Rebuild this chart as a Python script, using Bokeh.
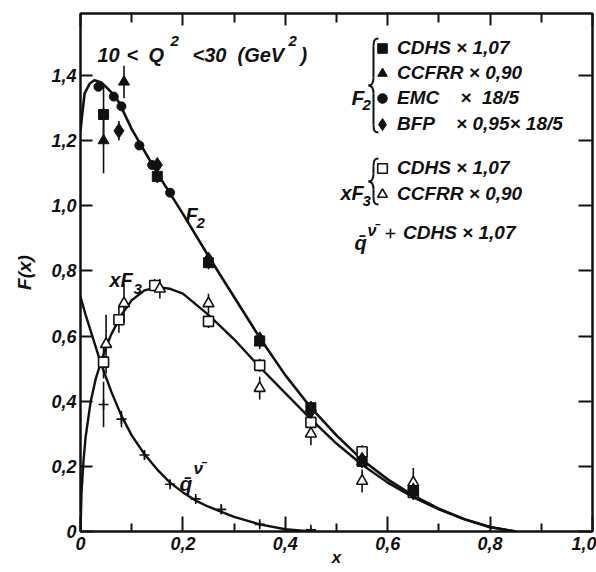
from bokeh.plotting import figure
from bokeh.models import (Range1d, LinearAxis, FixedTicker, CustomJSTickFormatter,
                          Label, Legend, LegendItem, ColumnDataSource)
from bokeh.embed import file_html
from bokeh.resources import INLINE

# ---------------- axis ticks ----------------
x_ticks = [0.0, 0.2, 0.4, 0.6, 0.8, 1.0]
x_minor_ticks = [0.1, 0.3, 0.5, 0.7, 0.9]
y_ticks = [0.0, 0.2, 0.4, 0.6, 0.8, 1.0, 1.2, 1.4]
X_MAX = 1.0
Y_MAX = 1.59

# ---------------- F2 measurements ----------------
f2_cdhs_x = [0.045, 0.15, 0.25, 0.35, 0.45, 0.55, 0.65]
f2_cdhs_y = [1.28, 1.09, 0.825, 0.585, 0.38, 0.215, 0.125]
f2_cdhs_err = [0.09, 0.02, 0.02, 0.015, 0.015, 0.015, 0.015]

f2_ccfrr_x = [0.045, 0.085, 0.25, 0.35, 0.45, 0.55, 0.65]
f2_ccfrr_y = [1.20, 1.38, 0.83, 0.58, 0.38, 0.215, 0.13]
f2_ccfrr_err = [0.10, 0.05, 0.02, 0.02, 0.02, 0.02, 0.02]

f2_emc_x = [0.035, 0.065, 0.08, 0.115, 0.14, 0.175]
f2_emc_y = [1.365, 1.335, 1.305, 1.185, 1.125, 1.04]

f2_bfp_x = [0.075, 0.15, 0.25, 0.35, 0.45, 0.55, 0.65]
f2_bfp_y = [1.23, 1.125, 0.835, 0.59, 0.37, 0.22, 0.12]
f2_bfp_err = [0.03, 0.015, 0.015, 0.015, 0.015, 0.015, 0.015]

# ---------------- xF3 measurements ----------------
xf3_cdhs_x = [0.045, 0.075, 0.145, 0.25, 0.35, 0.45, 0.55, 0.65]
xf3_cdhs_y = [0.52, 0.65, 0.755, 0.645, 0.51, 0.335, 0.245, 0.12]
xf3_cdhs_err = [0.05, 0.04, 0.02, 0.02, 0.02, 0.02, 0.02, 0.02]

xf3_ccfrr_x = [0.05, 0.085, 0.155, 0.25, 0.35, 0.45, 0.55, 0.65]
xf3_ccfrr_y = [0.575, 0.70, 0.745, 0.70, 0.44, 0.30, 0.155, 0.15]
xf3_ccfrr_err = [0.09, 0.06, 0.03, 0.03, 0.035, 0.035, 0.035, 0.045]

# ---------------- antiquark measurements ----------------
qbar_x = [0.045, 0.08, 0.125, 0.175, 0.225, 0.275, 0.35, 0.45]
qbar_y = [0.39, 0.345, 0.235, 0.145, 0.10, 0.068, 0.022, 0.005]
qbar_err = [0.07, 0.025, 0.012, 0.01, 0.01, 0.015, 0.01, 0.008]

# ---------------- fitted curves ----------------
f2_curve_x = [0.0, 0.004, 0.008, 0.018, 0.027, 0.041, 0.051, 0.065, 0.076, 0.1,
              0.15, 0.2, 0.25, 0.3, 0.35, 0.4, 0.45, 0.5, 0.55, 0.6, 0.65,
              0.7, 0.75, 0.8, 0.85]
f2_curve_y = [1.23, 1.29, 1.345, 1.375, 1.385, 1.378, 1.363, 1.34, 1.315, 1.235,
              1.10, 0.975, 0.845, 0.72, 0.595, 0.48, 0.38, 0.295, 0.22, 0.16, 0.11,
              0.07, 0.038, 0.014, 0.0]

xf3_curve_x = [0.0, 0.002, 0.006, 0.01, 0.02, 0.03, 0.04, 0.05, 0.06, 0.08, 0.1,
               0.125, 0.15, 0.175, 0.2, 0.25, 0.3, 0.35, 0.4, 0.45, 0.5, 0.55,
               0.6, 0.65, 0.7, 0.75, 0.8, 0.85]
xf3_curve_y = [0.0, 0.12, 0.22, 0.29, 0.40, 0.47, 0.52, 0.565, 0.605, 0.665, 0.71,
               0.74, 0.75, 0.745, 0.73, 0.665, 0.59, 0.505, 0.425, 0.345, 0.27, 0.205,
               0.15, 0.105, 0.068, 0.037, 0.013, 0.0]

qbar_curve_x = [0.0, 0.01, 0.02, 0.03, 0.04, 0.06, 0.08, 0.1, 0.125, 0.15, 0.175,
                0.2, 0.225, 0.25, 0.3, 0.35, 0.4, 0.45]
qbar_curve_y = [0.72, 0.665, 0.615, 0.565, 0.515, 0.43, 0.355, 0.295, 0.237, 0.19,
                0.15, 0.12, 0.095, 0.076, 0.045, 0.022, 0.007, 0.0]

FONT = "Liberation Sans"
INK = "#111111"

# frame edges in canvas pixels, used to place the annotation texts
FL, FT, FR, FB = 80, 13, 592, 531


def dx(px):
    return X_MAX * (px - FL) / (FR - FL)


def dy(py):
    return Y_MAX * (FB - py) / (FB - FT)


p = figure(width=596, height=572, output_backend="svg", toolbar_location=None,
           x_range=Range1d(0, X_MAX), y_range=Range1d(0, Y_MAX),
           min_border_left=FL, min_border_right=596 - FR,
           min_border_top=FT, min_border_bottom=572 - FB)
p.grid.visible = False
p.outline_line_color = INK
p.outline_line_width = 2
p.background_fill_color = "white"
p.border_fill_color = "white"

fmt = CustomJSTickFormatter(code="return tick == 0 ? '0' : tick.toFixed(1).replace('.', ',');")
blank = CustomJSTickFormatter(code="return '';")

xa = p.xaxis[0]
xa.ticker = FixedTicker(ticks=x_ticks, minor_ticks=x_minor_ticks)
xa.formatter = fmt
xa.major_tick_in = 15
xa.major_tick_out = 0
xa.minor_tick_in = 8
xa.minor_tick_out = 0
xa.major_label_standoff = 5
xa.axis_label = "x"
xa.axis_label_standoff = -5
xa.axis_label_text_font_size = "17px"

ya = p.yaxis[0]
ya.ticker = FixedTicker(ticks=y_ticks, minor_ticks=[])
ya.formatter = fmt
ya.major_tick_in = 12
ya.major_tick_out = 0
ya.minor_tick_in = 0
ya.minor_tick_out = 0
ya.major_label_standoff = 4
ya.axis_label = "F(x)"
ya.axis_label_standoff = 13
ya.axis_label_text_font_size = "19px"

for ax in (xa, ya):
    ax.axis_line_width = 2
    ax.axis_line_color = INK
    ax.major_tick_line_width = 2
    ax.major_tick_line_color = INK
    ax.minor_tick_line_width = 2
    ax.minor_tick_line_color = INK
    ax.major_label_text_font = FONT
    ax.major_label_text_font_style = "bold italic"
    ax.major_label_text_font_size = "18px"
    ax.major_label_text_color = INK
    ax.axis_label_text_font = FONT
    ax.axis_label_text_font_style = "bold italic"
    ax.axis_label_text_color = INK

top = LinearAxis(ticker=FixedTicker(ticks=x_ticks, minor_ticks=x_minor_ticks),
                 formatter=blank, major_label_text_font_size="8px", major_label_standoff=0,
                 major_tick_in=12, major_tick_out=0, minor_tick_in=9, minor_tick_out=0,
                 axis_line_width=2, axis_line_color=INK,
                 major_tick_line_width=2, minor_tick_line_width=2,
                 major_tick_line_color=INK, minor_tick_line_color=INK)
right = LinearAxis(ticker=FixedTicker(ticks=y_ticks, minor_ticks=[]),
                   formatter=blank, major_label_text_font_size="8px", major_label_standoff=0,
                   major_tick_in=14, major_tick_out=0, minor_tick_in=0, minor_tick_out=0,
                   axis_line_width=2, axis_line_color=INK,
                   major_tick_line_width=2, major_tick_line_color=INK)
p.add_layout(top, "above")
p.add_layout(right, "right")

# ---------------- curves ----------------
p.line(f2_curve_x, f2_curve_y, line_width=2.6, line_color=INK)
p.line(xf3_curve_x, xf3_curve_y, line_width=2.4, line_color=INK)
p.line(qbar_curve_x, qbar_curve_y, line_width=2.4, line_color=INK)


def errbars(xs, ys, errs):
    src = ColumnDataSource(dict(x=xs, lo=[y - e for y, e in zip(ys, errs)],
                                hi=[y + e for y, e in zip(ys, errs)]))
    p.segment(x0="x", y0="lo", x1="x", y1="hi", source=src,
              line_width=1.6, line_color=INK)


errbars(f2_cdhs_x, f2_cdhs_y, f2_cdhs_err)
errbars(f2_ccfrr_x, f2_ccfrr_y, f2_ccfrr_err)
errbars(f2_bfp_x, f2_bfp_y, f2_bfp_err)
errbars(xf3_cdhs_x, xf3_cdhs_y, xf3_cdhs_err)
errbars(xf3_ccfrr_x, xf3_ccfrr_y, xf3_ccfrr_err)
errbars(qbar_x, qbar_y, qbar_err)

r_xf3_cdhs = p.scatter(xf3_cdhs_x, xf3_cdhs_y, marker="square", size=10,
                       fill_color="white", line_color=INK, line_width=1.6)
r_xf3_ccfrr = p.scatter(xf3_ccfrr_x, xf3_ccfrr_y, marker="triangle", size=11,
                        fill_color="white", line_color=INK, line_width=1.6)
r_f2_cdhs = p.scatter(f2_cdhs_x, f2_cdhs_y, marker="square", size=10,
                      fill_color=INK, line_color=INK)
r_f2_ccfrr = p.scatter(f2_ccfrr_x, f2_ccfrr_y, marker="triangle", size=11,
                       fill_color=INK, line_color=INK)
r_f2_emc = p.scatter(f2_emc_x, f2_emc_y, marker="circle", size=9,
                     fill_color=INK, line_color=INK)
r_f2_bfp = p.scatter(f2_bfp_x, f2_bfp_y, marker="diamond", size=15,
                     fill_color=INK, line_color=INK)
r_qbar = p.scatter(qbar_x, qbar_y, marker="cross", size=10,
                   line_color=INK, line_width=1.6)

# ---------------- legends ----------------
NB = "\u00a0"


def make_legend(items, loc, spacing, standoff, glyph=24):
    leg = Legend(items=items, location=loc, orientation="vertical",
                 background_fill_alpha=0, border_line_color=None,
                 padding=0, margin=0, spacing=spacing,
                 glyph_width=glyph, glyph_height=glyph, label_height=glyph,
                 label_standoff=standoff,
                 label_text_font=FONT, label_text_font_style="bold italic",
                 label_text_font_size="19px", label_text_color=INK)
    p.add_layout(leg)


make_legend([
    LegendItem(label="CDHS × 1,07", renderers=[r_f2_cdhs]),
    LegendItem(label="CCFRR × 0,90", renderers=[r_f2_ccfrr]),
    LegendItem(label="EMC" + NB * 4 + "×" + NB * 2 + "18/5", renderers=[r_f2_emc]),
], (290, FB - 110), 1, 3)

make_legend([
    LegendItem(label="BFP" + NB * 4 + "× 0,95× 18/5", renderers=[r_f2_bfp]),
], (287, FB - 139), 0, 0, glyph=30)

make_legend([
    LegendItem(label="CDHS × 1,07", renderers=[r_xf3_cdhs]),
    LegendItem(label="CCFRR × 0,90", renderers=[r_xf3_ccfrr]),
], (290, FB - 206), 2, 3)

make_legend([
    LegendItem(label="CDHS × 1,07", renderers=[r_qbar]),
], (298, FB - 245), 0, 1)


# ---------------- text annotations ----------------
def txt(px, py, s, size="20px", align="left", baseline="alphabetic", style="bold italic"):
    p.add_layout(Label(x=dx(px), y=dy(py), text=s, text_font=FONT,
                       text_font_style=style, text_font_size=size,
                       text_align=align, text_baseline=baseline, text_color=INK))


def brace(xs, top_, bot_, tip=5, hook=5):
    mid = (top_ + bot_) / 2
    xr, xt = xs + hook, xs - tip
    curves = [
        ((xr, top_), (xs + 1, top_), (xs, top_ + 2), (xs, top_ + 8)),
        ((xs, mid - 8), (xs, mid - 3), (xt + 3, mid), (xt, mid)),
        ((xt, mid), (xt + 3, mid), (xs, mid + 3), (xs, mid + 8)),
        ((xs, bot_ - 8), (xs, bot_ - 2), (xs + 1, bot_), (xr, bot_)),
    ]
    p.bezier(x0=[dx(c[0][0]) for c in curves], y0=[dy(c[0][1]) for c in curves],
             cx0=[dx(c[1][0]) for c in curves], cy0=[dy(c[1][1]) for c in curves],
             cx1=[dx(c[2][0]) for c in curves], cy1=[dy(c[2][1]) for c in curves],
             x1=[dx(c[3][0]) for c in curves], y1=[dy(c[3][1]) for c in curves],
             line_width=2, line_color=INK)
    p.segment(x0=[dx(xs), dx(xs)], y0=[dy(top_ + 8), dy(mid + 8)],
              x1=[dx(xs), dx(xs)], y1=[dy(mid - 8), dy(bot_ - 8)],
              line_width=2, line_color=INK)


# kinematic range
txt(97, 54, "10", "20px")
txt(126, 54, "<", "20px")
txt(148, 54, "Q", "20px")
txt(170, 40, "2", "15px")
txt(192, 54, "<30", "20px")
txt(237, 54, "(GeV", "20px")
txt(288, 40, "2", "15px")
txt(300, 54, ")", "20px")

# legend group labels and braces
txt(351, 97, "F", "21px")
txt(362, 104, "2", "15px")
brace(373, 38, 132)
txt(340, 192, "xF", "20px")
txt(362, 200, "3", "15px")
brace(373, 158, 204)
txt(354, 242, "q\u0304", "20px")
txt(367, 230, "\u03bd\u0304", "16px")

# curve labels
txt(185, 214, "F", "20px")
txt(196, 222, "2", "15px")
txt(109, 279, "xF", "20px")
txt(133, 288, "3", "15px")
txt(179, 483, "q\u0304", "21px")
txt(193, 468, "\u03bd\u0304", "17px")

open("out.html", "w").write(file_html(p, INLINE))
